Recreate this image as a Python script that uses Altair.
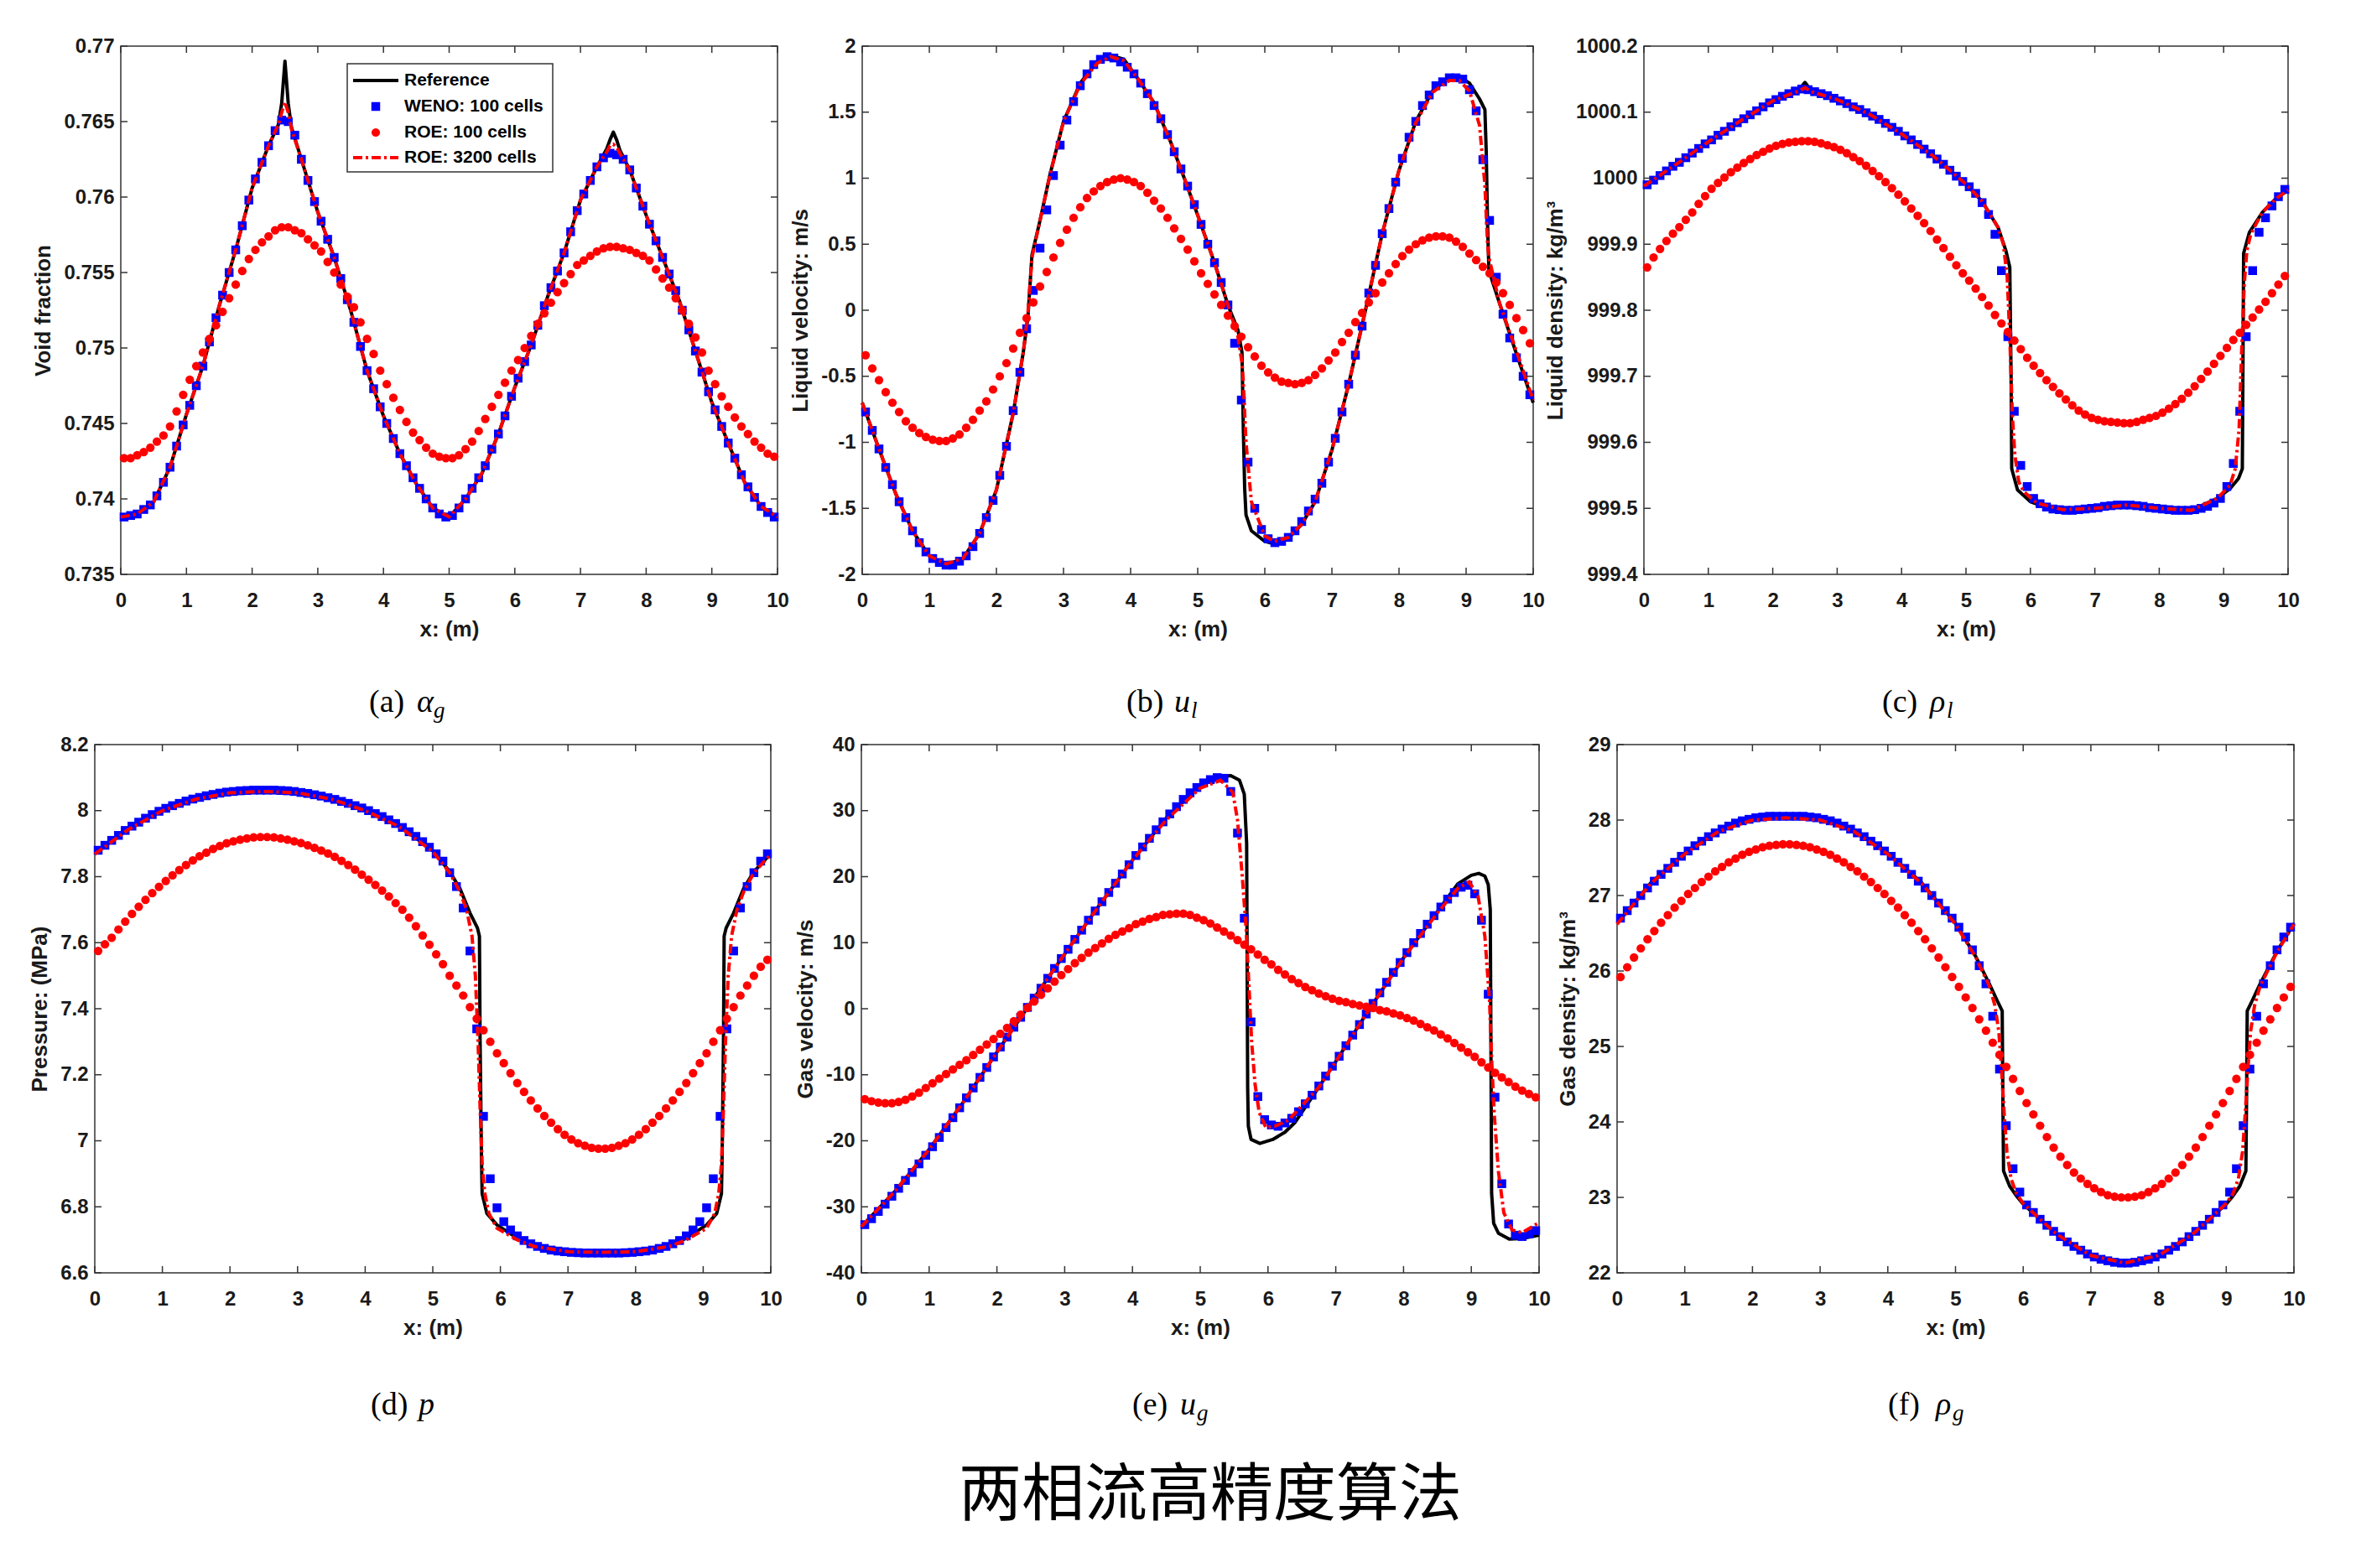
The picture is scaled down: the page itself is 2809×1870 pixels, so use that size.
import altair as alt
import pandas as pd

# ---------------- grid / ticks ----------------
X_CELLS = [round(0.05 + 0.1 * i, 2) for i in range(100)]   # 100-cell mesh centres
X_TICKS = [0, 1, 2, 3, 4, 5, 6, 7, 8, 9, 10]

# ---------------- (a) void fraction ----------------
YT_A = [0.735, 0.74, 0.745, 0.75, 0.755, 0.76, 0.765, 0.77]
REF_A_X = [0, 0.25, 0.5, 0.75, 1, 1.25, 1.5, 1.75, 2, 2.25, 2.4, 2.45, 2.5, 2.55, 2.6, 2.75, 3, 3.25, 3.5, 3.75,
           4, 4.25, 4.5, 4.75, 5, 5.25, 5.5, 5.75, 6, 6.25, 6.5, 6.75, 7, 7.25, 7.4, 7.45, 7.5, 7.55, 7.6, 7.75,
           8, 8.25, 8.5, 8.75, 9, 9.25, 9.5, 9.75, 10]
REF_A_Y = [0.7388, 0.7390, 0.7398, 0.7421, 0.7456, 0.7488, 0.7528, 0.7565, 0.7606, 0.7634,
           0.7648, 0.7662, 0.7690, 0.7662, 0.7646, 0.7625, 0.7590, 0.7560, 0.7525, 0.7485,
           0.7455, 0.7430, 0.7410, 0.7394, 0.7388, 0.7400, 0.7417, 0.7443, 0.7474, 0.7502,
           0.7534, 0.7563, 0.7598, 0.7620, 0.7632, 0.7638, 0.7643, 0.7638, 0.7631, 0.7618,
           0.7588, 0.7560, 0.7532, 0.7498, 0.7464, 0.7437, 0.7411, 0.7395, 0.7388]
R32_A_X = REF_A_X
R32_A_Y = [0.7388, 0.7390, 0.7398, 0.7421, 0.7456, 0.7488, 0.7528, 0.7565, 0.7606, 0.7634,
           0.7648, 0.7656, 0.7663, 0.7656, 0.7645, 0.7625, 0.7590, 0.7560, 0.7525, 0.7485,
           0.7455, 0.7430, 0.7410, 0.7394, 0.7388, 0.7400, 0.7417, 0.7443, 0.7474, 0.7502,
           0.7534, 0.7563, 0.7598, 0.7620, 0.7630, 0.7634, 0.7635, 0.7633, 0.7629, 0.7618,
           0.7588, 0.7560, 0.7532, 0.7498, 0.7464, 0.7437, 0.7411, 0.7395, 0.7388]
WENO_A = [0.7388, 0.7389, 0.7390, 0.7393, 0.7396, 0.7402, 0.7411, 0.7421, 0.7435, 0.7449,
          0.7462, 0.7475, 0.7488, 0.7504, 0.7520, 0.7535, 0.7550, 0.7565, 0.7581, 0.7598,
          0.7612, 0.7623, 0.7634, 0.7644, 0.7651, 0.7650, 0.7641, 0.7625, 0.7611, 0.7597,
          0.7584, 0.7572, 0.7560, 0.7546, 0.7532, 0.7517, 0.7501, 0.7485, 0.7473, 0.7461,
          0.7450, 0.7440, 0.7430, 0.7422, 0.7414, 0.7407, 0.7400, 0.7394, 0.7390, 0.7388,
          0.7389, 0.7394, 0.7400, 0.7407, 0.7414, 0.7422, 0.7433, 0.7443, 0.7455, 0.7468,
          0.7480, 0.7491, 0.7502, 0.7515, 0.7528, 0.7540, 0.7551, 0.7563, 0.7577, 0.7591,
          0.7602, 0.7611, 0.7620, 0.7626, 0.7629, 0.7628, 0.7625, 0.7618, 0.7606, 0.7594,
          0.7582, 0.7571, 0.7560, 0.7549, 0.7538, 0.7525, 0.7512, 0.7498, 0.7484, 0.7471,
          0.7459, 0.7448, 0.7437, 0.7427, 0.7416, 0.7408, 0.7401, 0.7395, 0.7391, 0.7388]
ROE_A = [0.7427, 0.7427, 0.7429, 0.7431, 0.7434, 0.7438, 0.7442, 0.7448, 0.7458, 0.7469,
         0.7479, 0.7488, 0.7497, 0.7506, 0.7515, 0.7524, 0.7533, 0.7542, 0.7551, 0.7559,
         0.7565, 0.7570, 0.7574, 0.7578, 0.7580, 0.7580, 0.7578, 0.7576, 0.7572, 0.7568,
         0.7564, 0.7557, 0.7550, 0.7542, 0.7534, 0.7527, 0.7517, 0.7506, 0.7496, 0.7485,
         0.7476, 0.7467, 0.7459, 0.7451, 0.7444, 0.7439, 0.7434, 0.7430, 0.7428, 0.7427,
         0.7427, 0.7429, 0.7433, 0.7438, 0.7445, 0.7453, 0.7461, 0.7469, 0.7477, 0.7485,
         0.7492, 0.7500, 0.7508, 0.7516, 0.7523, 0.7530, 0.7537, 0.7543, 0.7549, 0.7555,
         0.7558, 0.7561, 0.7564, 0.7566, 0.7567, 0.7567, 0.7566, 0.7565, 0.7563, 0.7561,
         0.7558, 0.7552, 0.7546, 0.7540, 0.7533, 0.7525, 0.7516, 0.7507, 0.7497, 0.7485,
         0.7476, 0.7468, 0.7461, 0.7454, 0.7448, 0.7443, 0.7438, 0.7434, 0.7430, 0.7428]

# ---------------- (b) liquid velocity ----------------
YT_B = [-2, -1.5, -1, -0.5, 0, 0.5, 1, 1.5, 2]
REF_B_X = [0, 0.25, 0.5, 0.75, 1, 1.25, 1.5, 1.75, 2, 2.25, 2.4, 2.47, 2.53, 2.65, 2.8, 3, 3.25, 3.5, 3.7, 3.9,
           4.1, 4.35, 4.6, 4.8, 5, 5.25, 5.45, 5.6, 5.66, 5.68, 5.70, 5.72, 5.8, 6, 6.15, 6.35, 6.55, 6.75, 7, 7.25,
           7.5, 7.75, 8, 8.25, 8.5, 8.75, 8.9, 9.05, 9.2, 9.28, 9.30, 9.32, 9.34, 9.5, 9.75, 10]
REF_B_Y = [-0.70, -1.05, -1.39, -1.67, -1.86, -1.93, -1.88, -1.69, -1.36, -0.78,
           -0.32, -0.05, 0.42, 0.68, 1.03, 1.43, 1.72, 1.88, 1.93, 1.90,
           1.76, 1.57, 1.27, 1.00, 0.72, 0.36, 0.04, -0.15, -0.32, -0.90,
           -1.35, -1.55, -1.67, -1.75, -1.77, -1.73, -1.62, -1.45, -1.06, -0.56,
           0.0, 0.58, 1.06, 1.43, 1.66, 1.76, 1.77, 1.72, 1.60, 1.52,
           1.20, 0.65, 0.30, 0.05, -0.33, -0.70]
R32_B_X = REF_B_X
R32_B_Y = [-0.70, -1.05, -1.39, -1.67, -1.86, -1.92, -1.88, -1.69, -1.36, -0.78,
           -0.32, -0.02, 0.40, 0.68, 1.03, 1.43, 1.71, 1.87, 1.92, 1.89,
           1.76, 1.57, 1.27, 1.00, 0.72, 0.36, 0.04, -0.20, -0.40, -0.55,
           -0.78, -1.00, -1.45, -1.71, -1.75, -1.72, -1.62, -1.45, -1.06, -0.56,
           0.0, 0.58, 1.06, 1.42, 1.65, 1.74, 1.74, 1.66, 1.40, 0.95,
           0.72, 0.50, 0.40, 0.05, -0.31, -0.68]
WENO_B = [-0.77, -0.91, -1.05, -1.19, -1.32, -1.45, -1.57, -1.67, -1.76, -1.83,
          -1.88, -1.91, -1.93, -1.93, -1.90, -1.86, -1.79, -1.69, -1.57, -1.44,
          -1.25, -1.03, -0.76, -0.47, -0.14, 0.15, 0.47, 0.76, 1.02, 1.25,
          1.44, 1.58, 1.70, 1.79, 1.86, 1.90, 1.92, 1.91, 1.88, 1.84,
          1.79, 1.72, 1.64, 1.55, 1.45, 1.33, 1.20, 1.07, 0.94, 0.80,
          0.65, 0.50, 0.36, 0.21, 0.04, -0.25, -0.68, -1.15, -1.50, -1.66,
          -1.73, -1.76, -1.75, -1.72, -1.67, -1.60, -1.52, -1.43, -1.31, -1.15,
          -0.97, -0.77, -0.56, -0.34, -0.12, 0.13, 0.34, 0.58, 0.77, 0.97,
          1.15, 1.31, 1.43, 1.55, 1.63, 1.70, 1.73, 1.76, 1.76, 1.75,
          1.67, 1.51, 1.14, 0.68, 0.25, -0.03, -0.21, -0.36, -0.50, -0.64]
ROE_B = [-0.34, -0.44, -0.53, -0.62, -0.70, -0.77, -0.84, -0.89, -0.93, -0.96,
         -0.98, -0.99, -0.99, -0.97, -0.94, -0.89, -0.83, -0.76, -0.69, -0.60,
         -0.50, -0.40, -0.29, -0.17, -0.06, 0.06, 0.18, 0.29, 0.40, 0.51,
         0.61, 0.70, 0.78, 0.85, 0.90, 0.94, 0.97, 0.99, 1.00, 0.99,
         0.97, 0.94, 0.89, 0.83, 0.77, 0.70, 0.62, 0.54, 0.46, 0.37,
         0.28, 0.20, 0.12, 0.04, -0.04, -0.12, -0.20, -0.28, -0.35, -0.42,
         -0.47, -0.51, -0.54, -0.55, -0.56, -0.55, -0.53, -0.49, -0.44, -0.38,
         -0.32, -0.24, -0.17, -0.09, -0.02, 0.06, 0.13, 0.21, 0.28, 0.35,
         0.41, 0.46, 0.50, 0.53, 0.55, 0.56, 0.56, 0.55, 0.52, 0.48,
         0.43, 0.38, 0.33, 0.28, 0.21, 0.13, 0.04, -0.06, -0.15, -0.25]

# ---------------- (c) liquid density ----------------
YT_C = [999.4, 999.5, 999.6, 999.7, 999.8, 999.9, 1000, 1000.1, 1000.2]
REF_C_X = [0, 0.5, 1, 1.5, 2, 2.4, 2.5, 2.6, 3, 3.5, 4, 4.5, 5, 5.25, 5.5, 5.62, 5.68, 5.70, 5.71, 5.8,
           6.0, 6.2, 6.5, 7, 7.5, 8, 8.5, 8.9, 9.1, 9.23, 9.29, 9.30, 9.31, 9.4, 9.6, 9.8, 10]
REF_C_Y = [999.988, 1000.021, 1000.055, 1000.087, 1000.117, 1000.133, 1000.145, 1000.132, 1000.119, 1000.097,
           1000.067, 1000.033, 999.991, 999.965, 999.925, 999.89, 999.865, 999.70, 999.56, 999.528,
           999.510, 999.503, 999.498, 999.500, 999.505, 999.500, 999.497, 999.515, 999.53, 999.545,
           999.56, 999.72, 999.886, 999.918, 999.948, 999.968, 999.982]
R32_C_X = [0, 0.5, 1, 1.5, 2, 2.4, 2.5, 2.6, 3, 3.5, 4, 4.5, 5, 5.25, 5.5, 5.58, 5.64, 5.68, 5.72, 5.76,
           5.82, 5.9, 6.1, 6.5, 7, 7.5, 8, 8.5, 8.9, 9.1, 9.18, 9.24, 9.28, 9.32, 9.36, 9.42, 9.5, 9.6, 9.8, 10]
R32_C_Y = [999.988, 1000.021, 1000.055, 1000.087, 1000.117, 1000.132, 1000.137, 1000.131, 1000.119, 1000.097,
           1000.067, 1000.033, 999.991, 999.965, 999.925, 999.90, 999.85, 999.76, 999.64, 999.58,
           999.54, 999.525, 999.508, 999.498, 999.500, 999.505, 999.500, 999.497, 999.515, 999.535,
           999.56, 999.62, 999.74, 999.84, 999.89, 999.915, 999.93, 999.948, 999.968, 999.982]
WENO_C = [999.990, 999.997, 1000.004, 1000.011, 1000.018, 1000.024, 1000.031, 1000.038, 1000.045, 1000.052,
          1000.058, 1000.065, 1000.071, 1000.078, 1000.084, 1000.090, 1000.096, 1000.102, 1000.108, 1000.114,
          1000.119, 1000.124, 1000.128, 1000.132, 1000.135, 1000.134, 1000.131, 1000.128, 1000.125, 1000.121,
          1000.117, 1000.113, 1000.108, 1000.104, 1000.099, 1000.094, 1000.089, 1000.083, 1000.077, 1000.071,
          1000.064, 1000.058, 1000.051, 1000.044, 1000.037, 1000.029, 1000.021, 1000.012, 1000.003, 999.995,
          999.987, 999.977, 999.963, 999.945, 999.915, 999.860, 999.760, 999.647, 999.565, 999.533,
          999.515, 999.507, 999.502, 999.499, 999.498, 999.497, 999.497, 999.498, 999.499, 999.500,
          999.501, 999.503, 999.504, 999.505, 999.505, 999.505, 999.504, 999.503, 999.501, 999.500,
          999.499, 999.498, 999.497, 999.497, 999.497, 999.498, 999.500, 999.503, 999.508, 999.515,
          999.533, 999.568, 999.647, 999.760, 999.860, 999.918, 999.940, 999.958, 999.972, 999.983]
ROE_C = [999.865, 999.880, 999.893, 999.905, 999.916, 999.926, 999.937, 999.948, 999.961, 999.973,
         999.984, 999.993, 1000.001, 1000.009, 1000.016, 1000.023, 1000.029, 1000.035, 1000.040, 1000.045,
         1000.049, 1000.052, 1000.054, 1000.055, 1000.056, 1000.056, 1000.055, 1000.053, 1000.050, 1000.047,
         1000.043, 1000.038, 1000.032, 1000.026, 1000.019, 1000.011, 1000.003, 999.994, 999.985, 999.975,
         999.965, 999.954, 999.943, 999.932, 999.920, 999.907, 999.894, 999.881, 999.868, 999.856,
         999.845, 999.833, 999.820, 999.807, 999.793, 999.780, 999.767, 999.754, 999.741, 999.728,
         999.716, 999.705, 999.694, 999.684, 999.674, 999.665, 999.656, 999.648, 999.642, 999.637,
         999.634, 999.632, 999.631, 999.630, 999.629, 999.629, 999.631, 999.634, 999.637, 999.640,
         999.645, 999.651, 999.658, 999.666, 999.675, 999.685, 999.696, 999.707, 999.719, 999.731,
         999.743, 999.755, 999.766, 999.778, 999.789, 999.801, 999.813, 999.826, 999.839, 999.852]

# ---------------- (d) pressure ----------------
YT_D = [6.6, 6.8, 7, 7.2, 7.4, 7.6, 7.8, 8, 8.2]
REF_D_X = [0, 0.5, 1, 1.5, 2, 2.5, 3, 3.5, 4, 4.5, 5, 5.25, 5.4, 5.55, 5.66, 5.69, 5.70, 5.72, 5.73, 5.8,
           5.95, 6.25, 6.5, 7, 7.5, 8, 8.5, 8.75, 9.05, 9.2, 9.27, 9.28, 9.30, 9.31, 9.34, 9.45, 9.6, 9.75, 10]
REF_D_Y = [7.870, 7.945, 8.003, 8.038, 8.057, 8.062, 8.057, 8.037, 8.004, 7.955,
           7.879, 7.815, 7.765, 7.690, 7.645, 7.620, 7.300, 6.950, 6.840, 6.780,
           6.745, 6.705, 6.683, 6.665, 6.661, 6.665, 6.683, 6.705, 6.745, 6.780,
           6.840, 6.950, 7.300, 7.620, 7.645, 7.690, 7.765, 7.815, 7.870]
R32_D_X = [0, 0.5, 1, 1.5, 2, 2.5, 3, 3.5, 4, 4.5, 5, 5.25, 5.4, 5.5, 5.58, 5.63, 5.67, 5.70, 5.73, 5.77,
           5.83, 5.95, 6.25, 6.5, 7, 7.5, 8, 8.5, 8.75, 9.05, 9.17, 9.23, 9.27, 9.30, 9.33, 9.37, 9.42, 9.5, 9.6,
           9.75, 10]
R32_D_Y = [7.868, 7.943, 8.000, 8.035, 8.054, 8.058, 8.054, 8.035, 8.000, 7.952,
           7.876, 7.812, 7.755, 7.70, 7.62, 7.50, 7.30, 7.10, 6.93, 6.84,
           6.78, 6.735, 6.700, 6.680, 6.664, 6.662, 6.664, 6.680, 6.700, 6.735,
           6.78, 6.84, 6.93, 7.10, 7.30, 7.50, 7.62, 7.70, 7.755, 7.812, 7.868]
WENO_D = [7.880, 7.895, 7.910, 7.925, 7.940, 7.953, 7.965, 7.977, 7.988, 7.998,
          8.007, 8.015, 8.022, 8.029, 8.035, 8.040, 8.045, 8.049, 8.053, 8.056,
          8.058, 8.060, 8.061, 8.062, 8.062, 8.062, 8.062, 8.061, 8.060, 8.058,
          8.055, 8.052, 8.048, 8.044, 8.039, 8.034, 8.028, 8.022, 8.015, 8.008,
          8.000, 7.991, 7.982, 7.972, 7.961, 7.949, 7.936, 7.922, 7.906, 7.889,
          7.869, 7.847, 7.812, 7.770, 7.705, 7.575, 7.339, 7.074, 6.885, 6.797,
          6.755, 6.730, 6.712, 6.698, 6.688, 6.680, 6.674, 6.669, 6.666, 6.664,
          6.662, 6.661, 6.660, 6.660, 6.660, 6.660, 6.660, 6.660, 6.661, 6.662,
          6.664, 6.666, 6.669, 6.674, 6.680, 6.688, 6.698, 6.712, 6.730, 6.755,
          6.797, 6.885, 7.074, 7.339, 7.575, 7.705, 7.770, 7.812, 7.847, 7.869]
ROE_D = [7.575, 7.595, 7.615, 7.640, 7.664, 7.687, 7.709, 7.730, 7.750, 7.769,
         7.787, 7.804, 7.820, 7.835, 7.849, 7.862, 7.873, 7.884, 7.893, 7.901,
         7.907, 7.912, 7.916, 7.919, 7.920, 7.920, 7.919, 7.916, 7.912, 7.907,
         7.902, 7.895, 7.887, 7.879, 7.870, 7.860, 7.848, 7.835, 7.821, 7.806,
         7.791, 7.775, 7.758, 7.740, 7.720, 7.700, 7.676, 7.650, 7.622, 7.594,
         7.565, 7.535, 7.500, 7.470, 7.440, 7.405, 7.370, 7.335, 7.300, 7.265,
         7.235, 7.205, 7.175, 7.148, 7.122, 7.098, 7.075, 7.055, 7.035, 7.018,
         7.004, 6.993, 6.985, 6.979, 6.976, 6.976, 6.979, 6.985, 6.993, 7.004,
         7.018, 7.035, 7.055, 7.075, 7.098, 7.122, 7.148, 7.175, 7.205, 7.235,
         7.265, 7.300, 7.335, 7.370, 7.405, 7.440, 7.470, 7.500, 7.527, 7.548]

# ---------------- (e) gas velocity ----------------
YT_E = [-40, -30, -20, -10, 0, 10, 20, 30, 40]
REF_E_X = [0, 0.5, 1, 1.5, 2, 2.5, 3, 3.5, 4, 4.5, 5, 5.25, 5.45, 5.58, 5.65, 5.685, 5.70, 5.71, 5.75, 5.88,
           6.07, 6.25, 6.4, 6.75, 7, 7.5, 8, 8.5, 8.8, 9.0, 9.11, 9.2, 9.25, 9.28, 9.30, 9.33, 9.4, 9.56, 9.75, 10]
REF_E_Y = [-33.0, -27.6, -21.3, -14.2, -6.6, 0.9, 8.3, 15.5, 22.5, 28.9,
           33.8, 35.1, 35.3, 34.6, 32.5, 25.0, -12.0, -17.8, -19.8, -20.4,
           -19.8, -18.7, -17.2, -11.9, -8.0, 0.0, 7.7, 14.7, 18.9, 20.2,
           20.5, 20.1, 18.8, 15.0, -28.0, -32.5, -34.0, -34.9, -34.8, -34.3]
R32_E_X = [0, 0.5, 1, 1.5, 2, 2.5, 3, 3.5, 4, 4.5, 5, 5.3, 5.48, 5.55, 5.62, 5.68, 5.72, 5.76, 5.81, 5.87,
           5.97, 6.1, 6.3, 6.75, 7, 7.5, 8, 8.5, 8.8, 8.97, 9.1, 9.2, 9.27, 9.30, 9.34, 9.40, 9.48, 9.6, 9.75, 10]
R32_E_Y = [-33.0, -27.6, -21.3, -14.2, -6.6, 0.9, 8.3, 15.5, 22.5, 28.6,
           33.4, 34.6, 32.8, 28.6, 20.1, 11.7, 3.2, -5.2, -11.5, -15.7,
           -18.0, -17.8, -16.9, -11.9, -8.0, 0.0, 7.7, 14.5, 18.2, 19.2,
           17.0, 11.0, 1.0, -7.7, -16.2, -24.6, -30.9, -33.5, -33.9, -32.4]
WENO_E = [-32.7, -31.8, -30.7, -29.6, -28.4, -27.2, -26.0, -24.8, -23.5, -22.2,
          -20.9, -19.5, -18.0, -16.5, -15.0, -13.5, -12.0, -10.4, -8.9, -7.3,
          -5.8, -4.3, -2.8, -1.3, 0.2, 1.6, 3.1, 4.6, 6.1, 7.6,
          9.0, 10.5, 11.9, 13.4, 14.8, 16.2, 17.6, 19.0, 20.4, 21.8,
          23.2, 24.5, 25.8, 27.1, 28.3, 29.5, 30.6, 31.7, 32.7, 33.5,
          34.2, 34.7, 35.0, 34.9, 32.9, 26.6, 13.7, -2.0, -13.3, -16.8,
          -17.6, -17.8, -17.3, -16.6, -15.6, -14.4, -13.1, -11.7, -10.2, -8.7,
          -7.2, -5.6, -4.0, -2.4, -0.8, 0.8, 2.4, 4.0, 5.5, 7.0,
          8.5, 10.0, 11.4, 12.8, 14.1, 15.4, 16.6, 17.6, 18.4, 18.7,
          17.4, 13.4, 2.2, -13.4, -26.5, -32.6, -34.3, -34.5, -34.1, -33.6]
ROE_E = [-13.7, -14.0, -14.2, -14.3, -14.3, -14.1, -13.8, -13.3, -12.7, -12.0,
         -11.3, -10.6, -9.9, -9.2, -8.5, -7.8, -7.0, -6.2, -5.4, -4.6,
         -3.8, -2.9, -1.9, -0.9, 0.1, 1.1, 2.1, 3.1, 4.1, 5.1,
         6.0, 6.9, 7.7, 8.5, 9.2, 9.9, 10.6, 11.2, 11.7, 12.2,
         12.8, 13.2, 13.6, 13.9, 14.2, 14.3, 14.4, 14.4, 14.2, 13.8,
         13.4, 12.9, 12.3, 11.7, 11.1, 10.4, 9.7, 9.0, 8.2, 7.4,
         6.7, 5.9, 5.2, 4.5, 3.9, 3.3, 2.8, 2.3, 1.9, 1.5,
         1.2, 1.0, 0.7, 0.5, 0.3, 0.1, -0.2, -0.4, -0.7, -1.0,
         -1.4, -1.8, -2.3, -2.8, -3.3, -3.9, -4.5, -5.2, -5.9, -6.6,
         -7.3, -8.1, -8.9, -9.7, -10.4, -11.1, -11.8, -12.4, -12.9, -13.4]

# ---------------- (f) gas density ----------------
YT_F = [22, 23, 24, 25, 26, 27, 28, 29]
REF_F_X = [0, 0.5, 1, 1.5, 2, 2.5, 3, 3.5, 4, 4.5, 5, 5.3, 5.5, 5.62, 5.69, 5.70, 5.71, 5.8, 5.9, 6.0,
           6.25, 6.5, 7, 7.5, 8, 8.5, 8.75, 9.0, 9.1, 9.2, 9.29, 9.30, 9.31, 9.38, 9.5, 9.75, 10]
REF_F_Y = [26.63, 27.17, 27.56, 27.86, 28.01, 28.05, 28.01, 27.86, 27.56, 27.17,
           26.63, 26.19, 25.83, 25.60, 25.47, 24.30, 23.35, 23.15, 23.02, 22.91,
           22.71, 22.51, 22.23, 22.13, 22.23, 22.51, 22.71, 22.91, 23.02, 23.15,
           23.35, 24.30, 25.47, 25.60, 25.83, 26.26, 26.63]
R32_F_X = [0, 0.5, 1, 1.5, 2, 2.5, 3, 3.5, 4, 4.5, 5, 5.3, 5.5, 5.58, 5.64, 5.68, 5.72, 5.76, 5.82, 5.9,
           6.0, 6.25, 6.5, 7, 7.5, 8, 8.5, 8.75, 9.0, 9.1, 9.18, 9.24, 9.28, 9.32, 9.36, 9.42, 9.5, 9.75, 10]
R32_F_Y = [26.62, 27.16, 27.55, 27.85, 28.0, 28.03, 28.0, 27.85, 27.55, 27.16,
           26.62, 26.18, 25.80, 25.55, 25.20, 24.70, 24.10, 23.60, 23.25, 23.05,
           22.92, 22.71, 22.51, 22.23, 22.13, 22.23, 22.51, 22.71, 22.92, 23.05,
           23.25, 23.60, 24.10, 24.70, 25.20, 25.55, 25.80, 26.25, 26.62]
WENO_F = [26.70, 26.80, 26.90, 27.00, 27.10, 27.19, 27.28, 27.36, 27.44, 27.52,
          27.59, 27.66, 27.72, 27.78, 27.83, 27.88, 27.92, 27.96, 27.99, 28.01,
          28.03, 28.04, 28.05, 28.05, 28.05, 28.05, 28.05, 28.05, 28.04, 28.03,
          28.01, 27.99, 27.96, 27.92, 27.88, 27.83, 27.78, 27.72, 27.66, 27.59,
          27.52, 27.44, 27.36, 27.28, 27.19, 27.10, 27.00, 26.90, 26.80, 26.70,
          26.58, 26.45, 26.28, 26.07, 25.83, 25.40, 24.70, 23.95, 23.38, 23.07,
          22.90, 22.80, 22.71, 22.63, 22.55, 22.48, 22.41, 22.35, 22.30, 22.25,
          22.21, 22.18, 22.16, 22.14, 22.13, 22.13, 22.14, 22.16, 22.18, 22.21,
          22.25, 22.30, 22.35, 22.41, 22.48, 22.55, 22.63, 22.71, 22.80, 22.90,
          23.07, 23.38, 23.95, 24.70, 25.40, 25.83, 26.07, 26.28, 26.45, 26.58]
ROE_F = [25.92, 26.05, 26.18, 26.30, 26.42, 26.53, 26.64, 26.74, 26.84, 26.93,
         27.02, 27.10, 27.18, 27.25, 27.32, 27.38, 27.44, 27.49, 27.54, 27.58,
         27.61, 27.64, 27.66, 27.67, 27.68, 27.68, 27.67, 27.66, 27.64, 27.61,
         27.58, 27.54, 27.49, 27.44, 27.38, 27.32, 27.25, 27.18, 27.10, 27.02,
         26.93, 26.84, 26.74, 26.64, 26.53, 26.42, 26.30, 26.18, 26.05, 25.92,
         25.79, 25.65, 25.51, 25.36, 25.21, 25.05, 24.89, 24.73, 24.57, 24.41,
         24.25, 24.10, 23.95, 23.80, 23.66, 23.54, 23.43, 23.33, 23.25, 23.18,
         23.12, 23.07, 23.03, 23.01, 23.00, 23.00, 23.01, 23.03, 23.07, 23.12,
         23.18, 23.25, 23.33, 23.43, 23.54, 23.66, 23.80, 23.95, 24.10, 24.25,
         24.41, 24.57, 24.73, 24.89, 25.05, 25.21, 25.36, 25.51, 25.65, 25.79]

# ---------------- text ----------------
Y_TITLES = ["Void fraction", "Liquid velocity: m/s", "Liquid density: kg/m³",
            "Pressure: (MPa)", "Gas velocity: m/s", "Gas density: kg/m³"]
X_TITLE = "x: (m)"
CAPTIONS = [("(a)", "α", "g"), ("(b)", "u", "l"), ("(c)", "ρ", "l"),
            ("(d)", "p", ""), ("(e)", "u", "g"), ("(f)", "ρ", "g")]
LEGEND_LABELS = ["Reference", "WENO: 100 cells", "ROE: 100 cells", "ROE: 3200 cells"]
MAIN_TITLE = "两相流高精度算法"

for arr in [WENO_A, ROE_A, WENO_B, ROE_B, WENO_C, ROE_C, WENO_D, ROE_D, WENO_E, ROE_E, WENO_F, ROE_F]:
    assert len(arr) == 100, len(arr)
for xs_, ys_ in [(REF_A_X, REF_A_Y), (R32_A_X, R32_A_Y), (REF_B_X, REF_B_Y), (R32_B_X, R32_B_Y),
                 (REF_C_X, REF_C_Y), (R32_C_X, R32_C_Y), (REF_D_X, REF_D_Y), (R32_D_X, R32_D_Y),
                 (REF_E_X, REF_E_Y), (R32_E_X, R32_E_Y), (REF_F_X, REF_F_Y), (R32_F_X, R32_F_Y)]:
    assert len(xs_) == len(ys_), (len(xs_), len(ys_))

# ---------------- style ----------------
FONT = "Liberation Sans"
SERIF = "Liberation Serif"
FRAME = "#333333"
LBL = "#1a1a1a"
H = 630
TICK_LEN = 8

PANELS = [
    dict(ydom=[0.735, 0.77], yt=YT_A, rx=REF_A_X, ry=REF_A_Y, qx=R32_A_X, qy=R32_A_Y, w=WENO_A, r=ROE_A, W=783, cx=296, cy=783),
    dict(ydom=[-2, 2], yt=YT_B, rx=REF_B_X, ry=REF_B_Y, qx=R32_B_X, qy=R32_B_Y, w=WENO_B, r=ROE_B, W=800, cx=315, cy=783),
    dict(ydom=[999.4, 1000.2], yt=YT_C, rx=REF_C_X, ry=REF_C_Y, qx=R32_C_X, qy=R32_C_Y, w=WENO_C, r=ROE_C, W=768, cx=284, cy=783),
    dict(ydom=[6.6, 8.2], yt=YT_D, rx=REF_D_X, ry=REF_D_Y, qx=R32_D_X, qy=R32_D_Y, w=WENO_D, r=ROE_D, W=806, cx=329, cy=788),
    dict(ydom=[-40, 40], yt=YT_E, rx=REF_E_X, ry=REF_E_Y, qx=R32_E_X, qy=R32_E_Y, w=WENO_E, r=ROE_E, W=808, cx=323, cy=788),
    dict(ydom=[22, 29], yt=YT_F, rx=REF_F_X, ry=REF_F_Y, qx=R32_F_X, qy=R32_F_Y, w=WENO_F, r=ROE_F, W=807, cx=323, cy=788),
]


def one_row(**kw):
    return pd.DataFrame({k: [v] for k, v in kw.items()})


def build_panel(i):
    p = PANELS[i]
    W = p["W"]
    xs = alt.Scale(domain=[0, 10], nice=False, zero=False)
    ys = alt.Scale(domain=p["ydom"], nice=False, zero=False)
    x_axis = alt.Axis(values=X_TICKS, labelExpr="datum.value + ''", title=X_TITLE, ticks=False, domain=False,
                      grid=False, labelPadding=19, titlePadding=9, labelFont=FONT, labelFontSize=24,
                      labelFontWeight="bold", labelColor=LBL, titleFont=FONT, titleFontSize=26,
                      titleFontWeight="bold", titleColor=LBL, labelFlush=False, labelOverlap=False)
    y_axis = alt.Axis(values=p["yt"], labelExpr="datum.value + ''", title=Y_TITLES[i], ticks=False, domain=False,
                      grid=False, labelPadding=8, titlePadding=11, labelFont=FONT, labelFontSize=24,
                      labelFontWeight="bold", labelColor=LBL, titleFont=FONT, titleFontSize=26,
                      titleFontWeight="bold", titleColor=LBL, labelOverlap=False)
    X = alt.X("x:Q", scale=xs, axis=x_axis)
    Y = alt.Y("y:Q", scale=ys, axis=y_axis)

    layers = []
    layers.append(alt.Chart(pd.DataFrame({"x": p["rx"], "y": p["ry"]}))
                  .mark_line(color="#000000", strokeWidth=4, strokeJoin="round")
                  .encode(x=X, y=Y))
    layers.append(alt.Chart(pd.DataFrame({"x": X_CELLS, "y": p["w"]}))
                  .mark_point(shape="square", filled=True, color="#0000ff", size=110, opacity=1)
                  .encode(x=X, y=Y))
    layers.append(alt.Chart(pd.DataFrame({"x": X_CELLS, "y": p["r"]}))
                  .mark_point(shape="circle", filled=True, color="#ff0000", size=105, opacity=1)
                  .encode(x=X, y=Y))
    layers.append(alt.Chart(pd.DataFrame({"x": p["qx"], "y": p["qy"]}))
                  .mark_line(color="#ff0000", strokeWidth=4, strokeDash=[11, 4, 3, 4])
                  .encode(x=X, y=Y))

    # inward ticks on all four sides (MATLAB box style)
    xt = pd.DataFrame({"x": X_TICKS})
    yt = pd.DataFrame({"y": p["yt"]})
    rule = dict(color=FRAME, strokeWidth=1.5)
    layers.append(alt.Chart(xt).mark_rule(**rule).encode(x=X, y=alt.value(H), y2=alt.value(H - TICK_LEN)))
    layers.append(alt.Chart(xt).mark_rule(**rule).encode(x=X, y=alt.value(0), y2=alt.value(TICK_LEN)))
    layers.append(alt.Chart(yt).mark_rule(**rule).encode(y=Y, x=alt.value(0), x2=alt.value(TICK_LEN)))
    layers.append(alt.Chart(yt).mark_rule(**rule).encode(y=Y, x=alt.value(W - TICK_LEN), x2=alt.value(W)))

    # caption  "(a) α_g"
    lab, sym, sub = CAPTIONS[i]
    cx, cy = p["cx"], p["cy"]
    layers.append(alt.Chart(one_row(t=lab)).mark_text(font=SERIF, fontSize=38, align="left", baseline="middle",
                                                      color="#000000").encode(text="t:N", x=alt.value(cx), y=alt.value(cy)))
    layers.append(alt.Chart(one_row(t=sym)).mark_text(font=SERIF, fontSize=38, fontStyle="italic", align="left",
                                                      baseline="middle", color="#000000").encode(
        text="t:N", x=alt.value(cx + 57), y=alt.value(cy)))
    if sub:
        layers.append(alt.Chart(one_row(t=sub)).mark_text(font=SERIF, fontSize=27, fontStyle="italic", align="left",
                                                          baseline="middle", color="#000000").encode(
            text="t:N", x=alt.value(cx + 77), y=alt.value(cy + 10)))

    if i == 0:
        # legend box
        layers.append(alt.Chart(one_row(v=0)).mark_rect(fill="#ffffff", stroke=FRAME, strokeWidth=1.5).encode(
            x=alt.value(270), x2=alt.value(515), y=alt.value(21), y2=alt.value(150)))
        ly = [41, 72, 103, 133]
        layers.append(alt.Chart(one_row(v=0)).mark_rule(color="#000000", strokeWidth=4).encode(
            x=alt.value(277), x2=alt.value(331), y=alt.value(ly[0])))
        layers.append(alt.Chart(one_row(v=0)).mark_point(shape="square", filled=True, color="#0000ff", size=110,
                                                         opacity=1).encode(x=alt.value(304), y=alt.value(ly[1])))
        layers.append(alt.Chart(one_row(v=0)).mark_point(shape="circle", filled=True, color="#ff0000", size=105,
                                                         opacity=1).encode(x=alt.value(304), y=alt.value(ly[2])))
        layers.append(alt.Chart(one_row(v=0)).mark_rule(color="#ff0000", strokeWidth=4, strokeDash=[11, 4, 3, 4]).encode(
            x=alt.value(277), x2=alt.value(331), y=alt.value(ly[3])))
        for k, lbl in enumerate(LEGEND_LABELS):
            layers.append(alt.Chart(one_row(t=lbl)).mark_text(font=FONT, fontSize=21, fontWeight="bold", align="left",
                                                              baseline="middle", color="#000000").encode(
                text="t:N", x=alt.value(338), y=alt.value(ly[k])))

    if i == 4:
        layers.append(alt.Chart(one_row(t=MAIN_TITLE)).mark_text(font="Noto Sans CJK SC", fontSize=75, align="center",
                                                                 baseline="middle", color="#000000").encode(
            text="t:N", x=alt.value(416), y=alt.value(896)))

    return alt.layer(*layers).properties(width=W, height=H)


pa, pb, pc, pd_, pe, pf = [build_panel(i) for i in range(6)]

spacer = (alt.Chart(one_row(v=0)).mark_point(opacity=0)
          .encode(x=alt.X("v:Q", axis=None), y=alt.Y("v:Q", axis=None))
          .properties(width=31, height=20, view=alt.ViewBackground(stroke="transparent")))

row1 = alt.hconcat(spacer,
                   alt.hconcat(pa, alt.hconcat(pb, pc, spacing=132, bounds="flush"), spacing=101, bounds="flush"),
                   spacing=0, bounds="flush")
row2 = alt.hconcat(pd_, alt.hconcat(pe, pf, spacing=93, bounds="flush"), spacing=108, bounds="flush")

# nested concat groups count as zero height under flush bounds, so the spacing is the full row pitch
chart = (alt.vconcat(row1, row2, spacing=833, bounds="flush")
         .properties(padding={"left": 25, "top": 34, "right": 5, "bottom": 5}, background="#ffffff")
         .configure_view(stroke=FRAME, strokeWidth=1.5))

chart.save("out.html", embed_options={"renderer": "svg", "actions": False})
